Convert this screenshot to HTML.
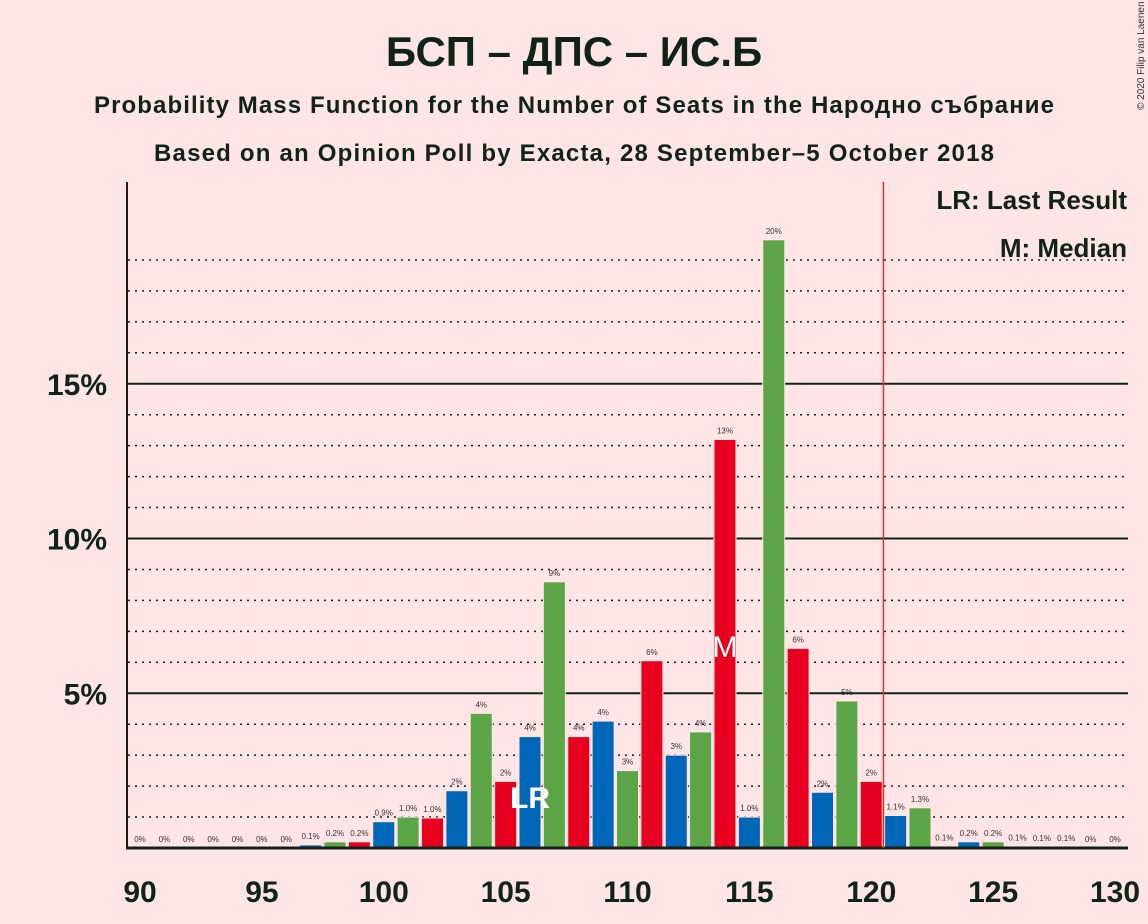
<!DOCTYPE html>
<html><head><meta charset="utf-8">
<style>
body{margin:0;background:#ffe5e5;}
svg{display:block;font-family:"Liberation Sans","DejaVu Sans",sans-serif;}
</style></head>
<body>
<svg id="chart" width="1148" height="924">
<rect width="1148" height="924" fill="#ffe5e5"/>
<text x="574" y="66" text-anchor="middle" font-size="42" font-weight="bold" fill="#0f2318">БСП – ДПС – ИС.Б</text>
<text x="574" y="113" text-anchor="middle" font-size="24" font-weight="bold" fill="#0f2318" textLength="960">Probability Mass Function for the Number of Seats in the Народно събрание</text>
<text x="574" y="161" text-anchor="middle" font-size="24" font-weight="bold" fill="#0f2318" textLength="840">Based on an Opinion Poll by Exacta, 28 September–5 October 2018</text>
<text transform="translate(1144,110) rotate(-90)" font-size="10" fill="#333">© 2020 Filip van Laenen</text>
<g id="grid"></g>
<g id="bars"></g>
<g id="labels"></g>
<line x1="127" y1="182" x2="127" y2="848" stroke="#0f2318" stroke-width="2"/>
<line x1="126" y1="848" x2="1128" y2="848" stroke="#0f2318" stroke-width="3"/>
<g id="ticks"></g>
<line id="lrline" y1="182" y2="848" stroke="#e03020" stroke-width="1.5"/>
<text x="1127" y="209" text-anchor="end" font-size="26" font-weight="bold" fill="#0f2318">LR: Last Result</text>
<text x="1127" y="257" text-anchor="end" font-size="26" font-weight="bold" fill="#0f2318">M: Median</text>
</svg>
<script>
const seats=[90,91,92,93,94,95,96,97,98,99,100,101,102,103,104,105,106,107,108,109,110,111,112,113,114,115,116,117,118,119,120,121,122,123,124,125,126,127,128,129,130];
const probs=[0,0,0,0,0,0,0,0.1,0.2,0.2,0.85,1.0,0.97,1.85,4.35,2.15,3.6,8.6,3.6,4.1,2.5,6.05,3.0,3.75,13.2,1.0,19.65,6.45,1.8,4.75,2.15,1.05,1.3,0.05,0.2,0.2,0.05,0.03,0.03,0,0];
const valueLabels=["0%","0%","0%","0%","0%","0%","0%","0.1%","0.2%","0.2%","0.9%","1.0%","1.0%","2%","4%","2%","4%","9%","4%","4%","3%","6%","3%","4%","13%","1.0%","20%","6%","2%","5%","2%","1.1%","1.3%","0.1%","0.2%","0.2%","0.1%","0.1%","0.1%","0%","0%"];
const xTicks=[90,95,100,105,110,115,120,125,130];
const yTicks=[5,10,15];
const lastResult=106, median=114, lrLine=120.5;
const NS="http://www.w3.org/2000/svg";
const X=s=>140+(s-90)*24.375;
const Y=p=>848-p*30.95;
const colors=["#e8001f","#0066b8","#5ba547"];
function mk(tag,attrs,parent){const e=document.createElementNS(NS,tag);for(const k in attrs)e.setAttribute(k,attrs[k]);parent.appendChild(e);return e;}
const grid=document.getElementById('grid'),bars=document.getElementById('bars'),labels=document.getElementById('labels'),ticks=document.getElementById('ticks');
for(let p=1;p<=19;p++){
  const solid=yTicks.includes(p);
  const l=mk('line',{x1:128,x2:1128,y1:Y(p),y2:Y(p),stroke:'#0f2318','stroke-width':solid?2:1.5,'stroke-dasharray':solid?'none':'2,5'},grid);
  
  
}
yTicks.forEach(t=>{
  const tx=mk('text',{x:107,y:Y(t)+11,'text-anchor':'end','font-size':30,'font-weight':'bold',fill:'#0f2318'},ticks);
  tx.textContent=t+'%';
  
  
});
xTicks.forEach(t=>{
  const tx=mk('text',{x:X(t),y:902,'text-anchor':'middle','font-size':30,'font-weight':'bold',fill:'#0f2318'},ticks);
  tx.textContent=t;
  
  
});
seats.forEach((s,i)=>{
  const p=probs[i];
  if(p>0){
    const r=mk('rect',{x:X(s)-11,y:Y(p),width:22,height:848-Y(p),fill:colors[s%3],stroke:'#ffe5e5','stroke-width':1},bars);
    
    
  }
  const t=mk('text',{x:X(s),y:Math.min(Y(p),848)-6,'text-anchor':'middle','font-size':8,fill:'#333'},labels);
  t.textContent=valueLabels[i];
  
  
});
const lr=mk('text',{x:X(lastResult),y:808,'text-anchor':'middle','font-size':30,'font-weight':'bold',fill:'#ffffff'},labels);
lr.textContent='LR';


const md=mk('text',{x:X(median),y:657,'text-anchor':'middle','font-size':30,fill:'#ffffff'},labels);
md.textContent='M';


const lrl=document.getElementById('lrline');
lrl.setAttribute('x1',X(lrLine));lrl.setAttribute('x2',X(lrLine));
</script>
</body></html>
